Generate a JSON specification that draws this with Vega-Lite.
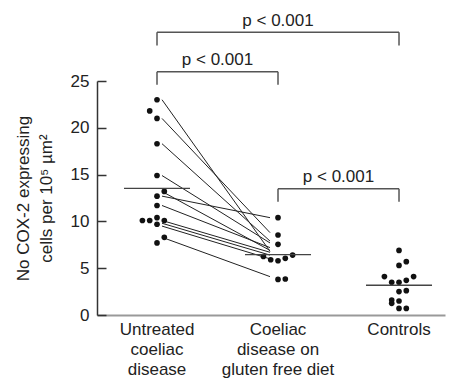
{
  "$schema": "https://vega.github.io/schema/vega-lite/v6.json",
  "width": 348,
  "height": 234,
  "autosize": {"type": "none"},
  "padding": {"left": 97, "top": 81, "right": 5, "bottom": 64},
  "config": {
    "view": {"stroke": null},
    "font": "Liberation Sans",
    "axis": {"grid": false}
  },
  "datasets": {
    "dots": [
      {"group": "Untreated coeliac disease", "value": 23.0, "col": 0},
      {"group": "Untreated coeliac disease", "value": 21.8, "col": -1},
      {"group": "Untreated coeliac disease", "value": 21.0, "col": 0},
      {"group": "Untreated coeliac disease", "value": 18.3, "col": 0},
      {"group": "Untreated coeliac disease", "value": 14.9, "col": 0},
      {"group": "Untreated coeliac disease", "value": 13.2, "col": 1},
      {"group": "Untreated coeliac disease", "value": 12.7, "col": 0},
      {"group": "Untreated coeliac disease", "value": 11.7, "col": 0},
      {"group": "Untreated coeliac disease", "value": 10.4, "col": 0},
      {"group": "Untreated coeliac disease", "value": 10.1, "col": -2},
      {"group": "Untreated coeliac disease", "value": 10.1, "col": -1},
      {"group": "Untreated coeliac disease", "value": 10.1, "col": 1},
      {"group": "Untreated coeliac disease", "value": 9.7, "col": 0},
      {"group": "Untreated coeliac disease", "value": 8.3, "col": 1},
      {"group": "Untreated coeliac disease", "value": 7.7, "col": 0},
      {"group": "Coeliac disease on gluten free diet", "value": 10.4, "col": 0},
      {"group": "Coeliac disease on gluten free diet", "value": 8.55, "col": 0},
      {"group": "Coeliac disease on gluten free diet", "value": 7.55, "col": 0},
      {"group": "Coeliac disease on gluten free diet", "value": 6.25, "col": -2},
      {"group": "Coeliac disease on gluten free diet", "value": 5.9, "col": -1},
      {"group": "Coeliac disease on gluten free diet", "value": 5.8, "col": 0},
      {"group": "Coeliac disease on gluten free diet", "value": 6.05, "col": 1},
      {"group": "Coeliac disease on gluten free diet", "value": 6.4, "col": 2},
      {"group": "Coeliac disease on gluten free diet", "value": 3.8, "col": 0},
      {"group": "Coeliac disease on gluten free diet", "value": 3.85, "col": 1},
      {"group": "Controls", "value": 6.9, "col": 0},
      {"group": "Controls", "value": 5.7, "col": 1},
      {"group": "Controls", "value": 5.3, "col": 0},
      {"group": "Controls", "value": 4.1, "col": -2},
      {"group": "Controls", "value": 3.5, "col": -1},
      {"group": "Controls", "value": 3.5, "col": 0},
      {"group": "Controls", "value": 3.7, "col": 1},
      {"group": "Controls", "value": 4.1, "col": 2},
      {"group": "Controls", "value": 2.5, "col": 0},
      {"group": "Controls", "value": 2.6, "col": 1},
      {"group": "Controls", "value": 1.6, "col": -1},
      {"group": "Controls", "value": 1.25, "col": -1},
      {"group": "Controls", "value": 1.5, "col": 0},
      {"group": "Controls", "value": 0.7, "col": 0},
      {"group": "Controls", "value": 0.7, "col": 1}
    ],
    "pairs": [
      {"from": "Untreated coeliac disease", "to": "Coeliac disease on gluten free diet", "before": 23.0, "after": 6.8},
      {"from": "Untreated coeliac disease", "to": "Coeliac disease on gluten free diet", "before": 21.0, "after": 8.8},
      {"from": "Untreated coeliac disease", "to": "Coeliac disease on gluten free diet", "before": 18.3, "after": 7.9},
      {"from": "Untreated coeliac disease", "to": "Coeliac disease on gluten free diet", "before": 14.9, "after": 7.7},
      {"from": "Untreated coeliac disease", "to": "Coeliac disease on gluten free diet", "before": 13.2, "after": 6.9},
      {"from": "Untreated coeliac disease", "to": "Coeliac disease on gluten free diet", "before": 12.7, "after": 10.4},
      {"from": "Untreated coeliac disease", "to": "Coeliac disease on gluten free diet", "before": 11.7, "after": 7.2},
      {"from": "Untreated coeliac disease", "to": "Coeliac disease on gluten free diet", "before": 10.1, "after": 6.7},
      {"from": "Untreated coeliac disease", "to": "Coeliac disease on gluten free diet", "before": 9.8, "after": 6.4},
      {"from": "Untreated coeliac disease", "to": "Coeliac disease on gluten free diet", "before": 9.5, "after": 6.0},
      {"from": "Untreated coeliac disease", "to": "Coeliac disease on gluten free diet", "before": 8.3, "after": 4.1}
    ],
    "brackets": [
      {"from": "Untreated coeliac disease", "to": "Controls", "top": 30.2, "bottom": 28.8, "label": "p < 0.001", "ty": 30.9, "span": "wide"},
      {"from": "Untreated coeliac disease", "to": "Coeliac disease on gluten free diet", "top": 26.0, "bottom": 24.6, "label": "p < 0.001", "ty": 26.7, "span": "near"},
      {"from": "Coeliac disease on gluten free diet", "to": "Controls", "top": 13.5, "bottom": 12.1, "label": "p < 0.001", "ty": 14.2, "span": "near"}
    ]
  },
  "layer": [
    {
      "data": {"name": "pairs"},
      "mark": {"type": "rule", "color": "#222", "strokeWidth": 1, "xOffset": 5, "x2Offset": -8},
      "encoding": {
        "x": {"field": "from", "type": "nominal",
          "scale": {"domain": ["Untreated coeliac disease", "Coeliac disease on gluten free diet", "Controls"], "paddingInner": 0.5, "paddingOuter": 0.188, "align": 0.654},
          "axis": {"title": null, "domainColor": "#999", "domainWidth": 2, "ticks": false, "labelAngle": 0, "labelFontSize": 17, "labelColor": "#222", "labelLineHeight": 20, "labelPadding": 6, "labelBaseline": "top",
            "labelExpr": "datum.value == 'Untreated coeliac disease' ? ['Untreated', 'coeliac', 'disease'] : datum.value == 'Controls' ? ['Controls'] : ['Coeliac', 'disease on', 'gluten free diet']"}},
        "x2": {"field": "to"},
        "y": {"field": "before", "type": "quantitative",
          "scale": {"domain": [0, 25], "nice": false},
          "axis": {"title": ["No COX-2 expressing", "cells per 10⁵ µm²"], "values": [0, 5, 10, 15, 20, 25], "tickSize": -9, "tickColor": "#333", "tickWidth": 1.5, "domainColor": "#333", "domainWidth": 1.5, "labelFontSize": 17, "labelColor": "#222", "labelPadding": 17, "titleFontSize": 17, "titleFontWeight": "normal", "titleColor": "#222", "titleLineHeight": 23, "titlePadding": 15}},
        "y2": {"field": "after"}
      }
    },
    {
      "data": {"name": "dots"},
      "mark": {"type": "circle", "color": "#111", "opacity": 1, "size": 32},
      "encoding": {
        "x": {"field": "group", "type": "nominal"},
        "xOffset": {"field": "col", "type": "ordinal", "scale": {"type": "point", "domain": [-2, -1, 0, 1, 2], "range": [15.65, 44.85], "padding": 0}},
        "y": {"field": "value", "type": "quantitative"}
      }
    },
    {
      "data": {"name": "dots"},
      "mark": {"type": "tick", "color": "#444", "size": 66, "thickness": 1.3},
      "encoding": {
        "x": {"field": "group", "type": "nominal"},
        "y": {"aggregate": "mean", "field": "value", "type": "quantitative"}
      }
    },
    {
      "data": {"name": "brackets"},
      "mark": {"type": "rule", "color": "#555", "strokeWidth": 1.5},
      "encoding": {
        "x": {"field": "from", "type": "nominal"},
        "x2": {"field": "to"},
        "y": {"field": "top", "type": "quantitative"}
      }
    },
    {
      "data": {"name": "brackets"},
      "mark": {"type": "rule", "color": "#555", "strokeWidth": 1.5},
      "encoding": {
        "x": {"field": "from", "type": "nominal"},
        "y": {"field": "top", "type": "quantitative"},
        "y2": {"field": "bottom"}
      }
    },
    {
      "data": {"name": "brackets"},
      "mark": {"type": "rule", "color": "#555", "strokeWidth": 1.5},
      "encoding": {
        "x": {"field": "to", "type": "nominal"},
        "y": {"field": "top", "type": "quantitative"},
        "y2": {"field": "bottom"}
      }
    },
    {
      "data": {"name": "brackets"},
      "transform": [{"filter": "datum.span == 'wide'"}],
      "mark": {"type": "text", "fontSize": 17, "color": "#222", "baseline": "alphabetic", "align": "center"},
      "encoding": {
        "x": {"datum": "Coeliac disease on gluten free diet", "type": "nominal"},
        "y": {"field": "ty", "type": "quantitative"},
        "text": {"field": "label"}
      }
    },
    {
      "data": {"name": "brackets"},
      "transform": [{"filter": "datum.span == 'near'"}],
      "mark": {"type": "text", "fontSize": 17, "color": "#222", "baseline": "alphabetic", "align": "center", "dx": 60.5},
      "encoding": {
        "x": {"field": "from", "type": "nominal"},
        "y": {"field": "ty", "type": "quantitative"},
        "text": {"field": "label"}
      }
    }
  ]
}
